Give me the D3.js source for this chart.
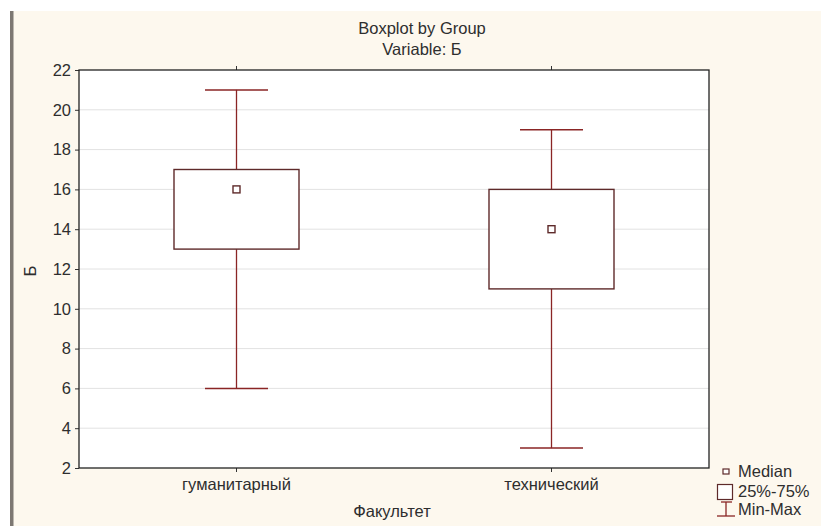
<!DOCTYPE html>
<html><head><meta charset="utf-8">
<script src="https://cdn.jsdelivr.net/npm/d3@7"></script>
<style>body{margin:0;background:#fff;}svg{display:block;font-family:"Liberation Sans",Arial,sans-serif;}</style>
</head><body>
<svg id="c" width="821" height="526"></svg>
<script>
const categories = ["гуманитарный", "технический"];
const minVals = [6, 3];
const q1Vals = [13, 11];
const medianVals = [16, 14];
const q3Vals = [17, 16];
const maxVals = [21, 19];
const yTicks = [2, 4, 6, 8, 10, 12, 14, 16, 18, 20, 22];

const FS = 16.5;
const FF = "Liberation Sans, Arial, sans-serif";
const TC = "#2e2e2e";

const svg = d3.select("#c");
svg.append("rect").attr("x", 13).attr("y", 11).attr("width", 808).attr("height", 515).attr("fill", "#fdf8ee");
svg.append("rect").attr("x", 10).attr("y", 11).attr("width", 3.5).attr("height", 515).attr("fill", "#7d7873");

const L = 79, R = 709, T = 70, B = 468;
const y = d3.scaleLinear().domain([2, 22]).range([B, T]);
const x = d3.scaleBand().domain(categories).range([L, R]);

svg.append("rect").attr("x", L).attr("y", T).attr("width", R - L).attr("height", B - T).attr("fill", "#fff");

// gridlines
svg.append("g").selectAll("line").data(yTicks.slice(1, -1)).join("line")
  .attr("x1", L).attr("x2", R).attr("y1", d => y(d)).attr("y2", d => y(d))
  .attr("stroke", "#e2e2e2").attr("stroke-width", 1);

// axes
const yAxis = svg.append("g").attr("transform", `translate(${L},0)`)
  .call(d3.axisLeft(y).tickValues(yTicks).tickSize(4).tickPadding(4));
yAxis.select(".domain").remove();
yAxis.selectAll("line").attr("stroke", "#333");
yAxis.selectAll("text").attr("font-size", FS).attr("fill", TC).attr("font-family", FF);

const xAxis = svg.append("g").attr("transform", `translate(0,${B})`)
  .call(d3.axisBottom(x).tickSize(4).tickPadding(6));
xAxis.select(".domain").remove();
xAxis.selectAll("line").attr("stroke", "#333");
xAxis.selectAll("text").attr("font-size", FS).attr("fill", TC).attr("font-family", FF);

// top ticks
svg.append("g").selectAll("line").data(categories).join("line")
  .attr("x1", d => x(d) + x.bandwidth() / 2).attr("x2", d => x(d) + x.bandwidth() / 2)
  .attr("y1", T).attr("y2", T - 4).attr("stroke", "#333");

// frame
svg.append("rect").attr("x", L).attr("y", T).attr("width", R - L).attr("height", B - T)
  .attr("fill", "none").attr("stroke", "#222").attr("stroke-width", 1.3);

const boxColor = "#5e2a2a";
const whiskColor = "#8a2525";
const boxW = 125, capW = 63, medS = 7;
const g = svg.append("g");
categories.forEach((c, i) => {
  const cx = x(c) + x.bandwidth() / 2;
  g.append("line").attr("x1", cx).attr("x2", cx).attr("y1", y(maxVals[i])).attr("y2", y(q3Vals[i])).attr("stroke", whiskColor).attr("stroke-width", 1.3);
  g.append("line").attr("x1", cx).attr("x2", cx).attr("y1", y(q1Vals[i])).attr("y2", y(minVals[i])).attr("stroke", whiskColor).attr("stroke-width", 1.3);
  g.append("line").attr("x1", cx - capW / 2).attr("x2", cx + capW / 2).attr("y1", y(maxVals[i])).attr("y2", y(maxVals[i])).attr("stroke", whiskColor).attr("stroke-width", 1.5);
  g.append("line").attr("x1", cx - capW / 2).attr("x2", cx + capW / 2).attr("y1", y(minVals[i])).attr("y2", y(minVals[i])).attr("stroke", whiskColor).attr("stroke-width", 1.5);
  g.append("rect").attr("x", cx - boxW / 2).attr("y", y(q3Vals[i])).attr("width", boxW).attr("height", y(q1Vals[i]) - y(q3Vals[i]))
    .attr("fill", "#fff").attr("stroke", boxColor).attr("stroke-width", 1.4);
  g.append("rect").attr("x", cx - medS / 2).attr("y", y(medianVals[i]) - medS / 2).attr("width", medS).attr("height", medS)
    .attr("fill", "#fff").attr("stroke", boxColor).attr("stroke-width", 1.4);
});

// titles
svg.append("text").attr("x", 422).attr("y", 34).attr("text-anchor", "middle").attr("font-size", FS).attr("fill", TC).text("Boxplot by Group");
svg.append("text").attr("x", 422).attr("y", 55).attr("text-anchor", "middle").attr("font-size", FS).attr("fill", TC).text("Variable: Б");
svg.append("text").attr("transform", "translate(36,271) rotate(-90)").attr("text-anchor", "middle").attr("font-size", FS).attr("fill", TC).text("Б");
svg.append("text").attr("x", 392).attr("y", 517).attr("text-anchor", "middle").attr("font-size", FS).attr("fill", TC).text("Факультет");

// legend
const lg = svg.append("g");
lg.append("rect").attr("x", 723).attr("y", 469).attr("width", 6).attr("height", 5).attr("fill", "#fff").attr("stroke", boxColor).attr("stroke-width", 1.2);
lg.append("rect").attr("x", 717.5).attr("y", 484.5).attr("width", 15).attr("height", 15).attr("fill", "#fff").attr("stroke", boxColor).attr("stroke-width", 1.2);
lg.append("line").attr("x1", 726).attr("x2", 726).attr("y1", 502).attr("y2", 516).attr("stroke", whiskColor).attr("stroke-width", 1.3);
lg.append("line").attr("x1", 721).attr("x2", 732).attr("y1", 502).attr("y2", 502).attr("stroke", whiskColor).attr("stroke-width", 1.3);
lg.append("line").attr("x1", 717).attr("x2", 735).attr("y1", 516).attr("y2", 516).attr("stroke", whiskColor).attr("stroke-width", 1.3);
const legTexts = ["Median", "25%-75%", "Min-Max"];
const legY = [477, 497, 515];
lg.selectAll("text").data(legTexts).join("text")
  .attr("x", 738).attr("y", (d, i) => legY[i]).attr("font-size", FS).attr("fill", TC).text(d => d);
</script>
</body></html>
